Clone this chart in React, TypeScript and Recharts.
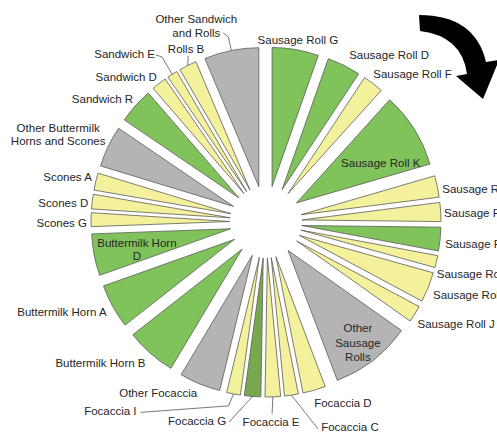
import { PieChart, Pie, Cell, Sector } from "recharts";

// product names, clockwise from 12 o'clock
const NAMES = [
  "Sausage Roll G", "Sausage Roll D", "Sausage Roll F", "Sausage Roll K",
  "Sausage Roll B", "Sausage Roll E", "Sausage Roll H", "Sausage Roll C",
  "Sausage Roll A", "Sausage Roll J", "Other Sausage Rolls",
  "Focaccia D", "Focaccia C", "Focaccia E", "Focaccia G", "Focaccia I", "Other Focaccia",
  "Buttermilk Horn B", "Buttermilk Horn A", "Buttermilk Horn D",
  "Scones G", "Scones D", "Scones A", "Other Buttermilk Horns and Scones",
  "Sandwich R", "Sandwich D", "Sandwich E", "Rolls B", "Other Sandwich and Rolls",
];

// share of sales (%)
const SHARE = [
  5.4, 3.9, 2.4, 8.8,
  2.5, 2.2, 2.75, 1.4,
  3.5, 1.95, 9.45,
  2.65, 1.6, 1.8, 1.9, 1.6, 4.8,
  5.85, 5.15, 4.85,
  1.6, 1.7, 2.0, 4.8,
  4.15, 1.75, 1.2, 2.05, 6.35,
];

const GREEN = "#80c35b";
const YELLOW = "#f4f19d";
const GREY = "#b4b4b4";
const OLIVE = "#78a84e";

const FILLS = [
  GREEN, GREEN, YELLOW, GREEN,
  YELLOW, YELLOW, GREEN, YELLOW,
  YELLOW, YELLOW, GREY,
  YELLOW, YELLOW, YELLOW, OLIVE, YELLOW, GREY,
  GREEN, GREEN, GREEN,
  YELLOW, YELLOW, YELLOW, GREY,
  GREEN, YELLOW, YELLOW, YELLOW, GREY,
];

const CX = 266;
const CY = 222;
const R = 139;
const EXPLODE = 36;
const RAD = Math.PI / 180;

// label placement: nudge from a point on the bisector (r from the pie centre)
type Lay = { r?: number; dx: number; dy: number; a: "start" | "middle" | "end"; lines?: string[]; lh?: number; leader?: number[][] };
const LAYOUT: Lay[] = [
  { dx: 1.5, dy: -4.6, a: "middle" },
  { dx: 3, dy: -6, a: "start" },
  { dx: -3, dy: -5.5, a: "start" },
  { r: 130, dx: 4.6, dy: 10.5, a: "middle" },
  { dx: 0, dy: 3.6, a: "start" },
  { dx: -1.6, dy: 1.5, a: "start" },
  { dx: 0, dy: 4.5, a: "start" },
  { dx: -4.6, dy: 11.3, a: "start" },
  { dx: 0, dy: 5.7, a: "start" },
  { dx: -1.6, dy: 7.2, a: "start" },
  { r: 150, dx: 0, dy: 2, a: "middle", lines: ["Other", "Sausage", "Rolls"], lh: 14.5 },
  { dx: -1.5, dy: 8, a: "start" },
  { dx: 29, dy: 27, a: "start", leader: [[-3, 2]] },
  { dx: -2, dy: 20, a: "middle", leader: [[1, -8]] },
  { dx: -26, dy: 19.5, a: "end", leader: [[3, 1]] },
  { dx: -96, dy: 12, a: "end", leader: [[92, -5], [4, 1.5]] },
  { dx: -0.7, dy: 4, a: "end" },
  { dx: -1.5, dy: 5.5, a: "end" },
  { dx: -1.6, dy: 3.7, a: "end" },
  { r: 130, dx: -1.4, dy: 2.7, a: "middle", lines: ["Buttermilk Horn", "D"], lh: 13 },
  { dx: 1, dy: 3, a: "end" },
  { dx: 1, dy: 1.7, a: "end" },
  { dx: 1, dy: -3.7, a: "end" },
  { dx: -45.5, dy: -10, a: "middle", lines: ["Other Buttermilk", "Horns and Scones"], lh: 13 },
  { dx: 1.6, dy: -3.5, a: "end" },
  { dx: 1, dy: -2.7, a: "end" },
  { dx: -14.6, dy: -16, a: "end", leader: [[7, 3], [1, 1]] },
  { dx: 0.5, dy: -12, a: "middle", leader: [[2, 7]] },
  { dx: -34, dy: -19.6, a: "middle", lines: ["Other Sandwich", "and Rolls"], lh: 13.5, leader: [[32, 11], [27, 7]] },
];

const polar = (bearing: number, r: number) => [
  CX + r * Math.sin(bearing * RAD),
  CY - r * Math.cos(bearing * RAD),
];

// every slice pulled out along its bisector
function ExplodedSector(props: any) {
  const { cx, cy, midAngle } = props;
  const dx = EXPLODE * Math.cos(-midAngle * RAD);
  const dy = EXPLODE * Math.sin(-midAngle * RAD);
  return <Sector {...props} cx={cx + dx} cy={cy + dy} />;
}

function renderLabel(props: any) {
  const { midAngle, index } = props;
  const lay = LAYOUT[index];
  const b = 90 - midAngle;
  const [px, py] = polar(b, lay.r ?? 180);
  const x = px + lay.dx;
  const y = py + lay.dy;
  const lines = lay.lines ?? [NAMES[index]];
  const lh = lay.lh ?? 13;
  let leader = null;
  if (lay.leader) {
    const pts = [polar(b, 175), ...lay.leader.map(([ox, oy]) => [x + ox, y + oy])];
    leader = <polyline points={pts.map((p) => p.join(",")).join(" ")} fill="none" stroke="#555" strokeWidth={0.8} />;
  }
  return (
    <g key={`lbl-${index}`}>
      {leader}
      {lines.map((t, i) => (
        <text
          key={i}
          x={x}
          y={y + (i - (lines.length - 1) / 2) * lh}
          textAnchor={lay.a}
          dominantBaseline="central"
          fontFamily="'Liberation Sans', Arial, sans-serif"
          fontSize={11.5}
          fill="#262626"
        >
          {t}
        </text>
      ))}
    </g>
  );
}

const data = NAMES.map((name, i) => ({ name, value: SHARE[i] }));

export default function App() {
  return (
    <div style={{ position: "absolute", left: 0, top: 0, width: 497, height: 435, overflow: "hidden", background: "#fff" }}>
      <PieChart width={497} height={435} margin={{ top: 0, right: 0, bottom: 0, left: 0 }}>
        <Pie
          data={data}
          dataKey="value"
          nameKey="name"
          cx={CX}
          cy={CY}
          innerRadius={0}
          outerRadius={R}
          startAngle={90}
          endAngle={-270}
          stroke="#5c5c5c"
          strokeWidth={0.8}
          shape={ExplodedSector}
          activeShape={ExplodedSector}
          inactiveShape={ExplodedSector}
          label={renderLabel}
          labelLine={false}
          isAnimationActive={false}
        >
          {data.map((d, i) => (
            <Cell key={d.name} fill={FILLS[i]} />
          ))}
        </Pie>
      </PieChart>
      {/* clockwise arrow */}
      <svg width={497} height={435} style={{ position: "absolute", left: 0, top: 0, pointerEvents: "none" }}>
        <path d="M419,15 Q475,15 486,62 L499,60 L483,99 L456,76 L467,74 Q462,36 420,31 Z" fill="#000" />
      </svg>
    </div>
  );
}
